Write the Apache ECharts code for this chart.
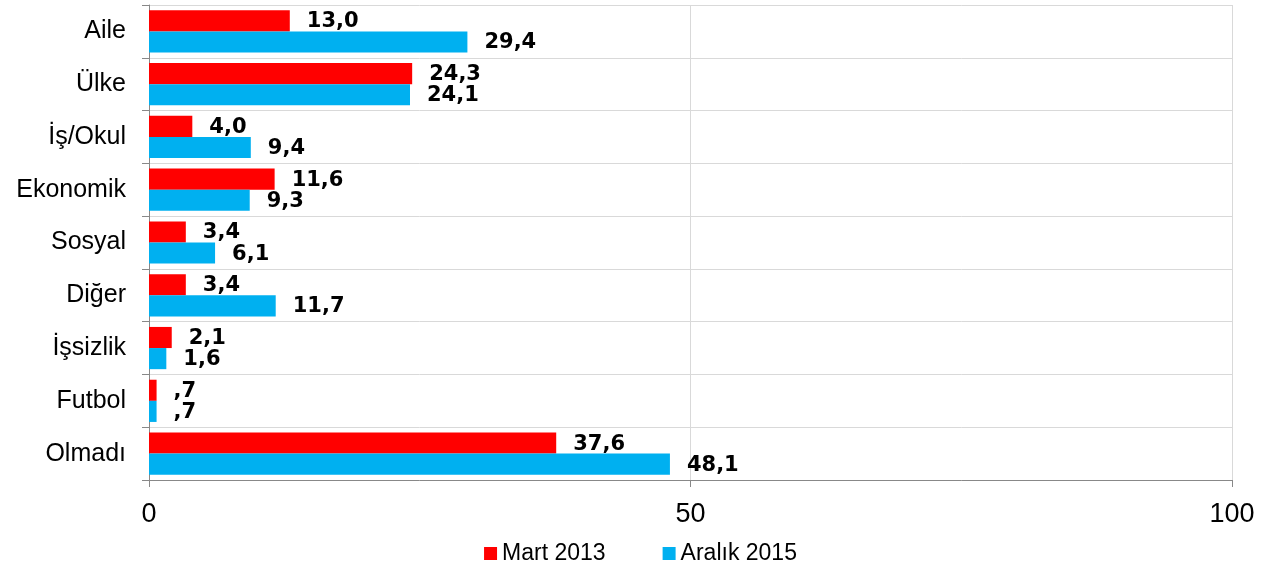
<!DOCTYPE html>
<html>
<head>
<meta charset="utf-8">
<style>
  html, body { margin: 0; padding: 0; background: #fff; }
  #chart { width: 1281px; height: 571px; }
</style>
<script src="https://cdn.jsdelivr.net/npm/echarts@6/dist/echarts.min.js"></script>
</head>
<body>
<div id="chart"></div>
<script>
var categories = ["Aile", "Ülke", "İş/Okul", "Ekonomik", "Sosyal", "Diğer", "İşsizlik", "Futbol", "Olmadı"];
var mart2013 = [13.0, 24.3, 4.0, 11.6, 3.4, 3.4, 2.1, 0.7, 37.6];
var aralik2015 = [29.4, 24.1, 9.4, 9.3, 6.1, 11.7, 1.6, 0.7, 48.1];
var xTicks = [0, 50, 100];

// 13.0 -> "13,0", 0.7 -> ",7"
function fmt(v) {
  var s = v.toFixed(1).replace(".", ",");
  if (s.indexOf("0,") === 0) s = s.substring(1);
  return s;
}

var chart = echarts.init(document.getElementById("chart"));

var labelStyle = {
  show: true,
  position: "right",
  distance: 17,
  offset: [0, 1],
  color: "#000",
  fontFamily: "DejaVu Sans",
  fontWeight: "bold",
  fontSize: 21,
  formatter: function (p) { return fmt(p.value); }
};

chart.setOption({
  animation: false,
  grid: { left: 149, right: 49, top: 5, bottom: 91 },
  legend: {
    bottom: 1,
    left: "center",
    itemWidth: 13,
    itemHeight: 13,
    itemGap: 57,
    icon: "rect",
    textStyle: { fontFamily: "Liberation Sans", fontSize: 23, color: "#000" },
    data: ["Mart 2013", "Aralık 2015"]
  },
  xAxis: {
    type: "value",
    min: xTicks[0],
    max: xTicks[xTicks.length - 1],
    interval: 50,
    axisLine: { show: true, lineStyle: { color: "#888", width: 1 } },
    axisTick: { show: true, length: 7, lineStyle: { color: "#888" } },
    axisLabel: { fontFamily: "Liberation Sans", fontSize: 27, color: "#000", margin: 21 },
    splitLine: { show: true, lineStyle: { color: "#d9d9d9", width: 1 } }
  },
  yAxis: {
    type: "category",
    inverse: true,
    data: categories,
    axisLine: { show: true, lineStyle: { color: "#888", width: 1 } },
    axisTick: { show: true, length: 7, alignWithLabel: false, lineStyle: { color: "#888" } },
    axisLabel: { fontFamily: "Liberation Sans", fontSize: 25, color: "#000", margin: 23 },
    splitLine: { show: true, lineStyle: { color: "#d9d9d9", width: 1 } }
  },
  series: [
    {
      name: "Mart 2013",
      type: "bar",
      data: mart2013,
      barGap: "0%",
      barCategoryGap: "20%",
      itemStyle: { color: "#ff0000" },
      label: labelStyle
    },
    {
      name: "Aralık 2015",
      type: "bar",
      data: aralik2015,
      itemStyle: { color: "#00b0f0" },
      label: labelStyle
    }
  ]
});
</script>
</body>
</html>
